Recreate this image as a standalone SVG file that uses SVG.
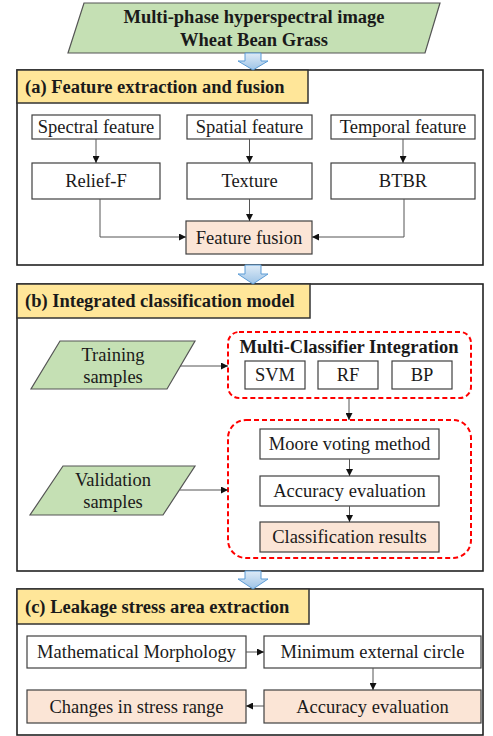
<svg xmlns="http://www.w3.org/2000/svg" width="493" height="736" viewBox="0 0 493 736">
<style>
text{font-family:"Liberation Serif","Times New Roman",serif;fill:#1a1a1a;text-anchor:middle;dominant-baseline:central}
.t{font-size:18.5px}
.b{font-weight:bold;font-size:18.5px}
.bx{fill:#fff;stroke:#404040;stroke-width:1.2}
.pe{fill:#FBE5D6;stroke:#404040;stroke-width:1.2}
.gr{fill:#C5E0B4;stroke:#555;stroke-width:1.2}
.ti{fill:#FFE699;stroke:#333;stroke-width:1.5}
.sec{fill:#fff;stroke:#222;stroke-width:1.6}
.dash{fill:none;stroke:#FF0000;stroke-width:2;stroke-dasharray:5 3}
.ln{fill:none;stroke:#555;stroke-width:1;marker-end:url(#ah)}
.ba{fill:url(#bg);stroke:#5B9BD5;stroke-width:1}
</style>
<defs>
<marker id="ah" viewBox="0 0 10 10" refX="10" refY="5" markerWidth="7" markerHeight="7" markerUnits="userSpaceOnUse" orient="auto"><path d="M0,0 L10,5 L0,10 z" fill="#111"/></marker>
<linearGradient id="bg" x1="0" y1="0" x2="0" y2="1"><stop offset="0" stop-color="#DEEBF7"/><stop offset="1" stop-color="#9DC3E6"/></linearGradient>
</defs>

<g id="input">
<polygon class="gr" points="84,3 440,3 425,53 68,53"/>
<text class="b" x="254" y="17">Multi-phase hyperspectral image</text>
<text class="b" x="254" y="40">Wheat Bean Grass</text>
</g>

<g id="section-a">
<rect class="sec" x="17" y="70" width="466" height="195"/>
<rect class="ti" x="17" y="70" width="291" height="33"/>
<text class="b" x="25" y="87" style="text-anchor:start">(a) Feature extraction and fusion</text>
</g>
<g id="spectral"><rect class="bx" x="32" y="115" width="128" height="24"/><text class="t" x="96" y="127">Spectral feature</text></g>
<g id="spatial"><rect class="bx" x="187" y="115" width="125" height="24"/><text class="t" x="249.5" y="127">Spatial feature</text></g>
<g id="temporal"><rect class="bx" x="331" y="115" width="144" height="24"/><text class="t" x="403" y="127">Temporal feature</text></g>
<g id="relief"><rect class="bx" x="32" y="163" width="128" height="36"/><text class="t" x="96" y="181">Relief-F</text></g>
<g id="texture"><rect class="bx" x="187" y="163" width="125" height="36"/><text class="t" x="249.5" y="181">Texture</text></g>
<g id="btbr"><rect class="bx" x="331" y="163" width="144" height="36"/><text class="t" x="403" y="181">BTBR</text></g>
<g id="fusion"><rect class="pe" x="186" y="221" width="126" height="33"/><text class="t" x="249" y="237.5">Feature fusion</text></g>

<g id="section-b">
<rect class="sec" x="17" y="284" width="466" height="287"/>
<rect class="ti" x="17" y="284" width="293" height="34"/>
<text class="b" x="25" y="301" style="text-anchor:start">(b) Integrated classification model</text>
</g>
<g id="training"><polygon class="gr" points="60,341 195,341 167,389 31,389"/><text class="t" x="113" y="355">Training</text><text class="t" x="113" y="377">samples</text></g>
<g id="validation"><polygon class="gr" points="63,466 195,466 163,515 30,515"/><text class="t" x="113" y="480">Validation</text><text class="t" x="113" y="502">samples</text></g>
<g id="multi-classifier">
<rect class="dash" x="228" y="332" width="243" height="66" rx="11"/>
<text class="b" x="349" y="347">Multi-Classifier Integration</text>
</g>
<g id="svm"><rect class="bx" x="245" y="361" width="60" height="28"/><text class="t" x="275" y="375">SVM</text></g>
<g id="rf"><rect class="bx" x="318" y="361" width="60" height="28"/><text class="t" x="348" y="375">RF</text></g>
<g id="bp"><rect class="bx" x="392" y="361" width="60" height="28"/><text class="t" x="422" y="375">BP</text></g>
<g id="voting-group"><rect class="dash" x="228" y="420" width="243" height="138" rx="18"/></g>
<g id="moore"><rect class="bx" x="260" y="429" width="179" height="30"/><text class="t" x="349.5" y="444">Moore voting method</text></g>
<g id="accuracy-b"><rect class="bx" x="260" y="476" width="179" height="30"/><text class="t" x="349.5" y="491">Accuracy evaluation</text></g>
<g id="results"><rect class="pe" x="260" y="522" width="179" height="30"/><text class="t" x="349.5" y="537">Classification results</text></g>

<g id="section-c">
<rect class="sec" x="17" y="589" width="466" height="146"/>
<rect class="ti" x="17" y="589" width="292" height="35"/>
<text class="b" x="25" y="607" style="text-anchor:start">(c) Leakage stress area extraction</text>
</g>
<g id="morphology"><rect class="bx" x="27" y="636" width="219" height="32"/><text class="t" x="136.5" y="652">Mathematical Morphology</text></g>
<g id="circle"><rect class="bx" x="264" y="636" width="217" height="32"/><text class="t" x="372.5" y="652">Minimum external circle</text></g>
<g id="changes"><rect class="pe" x="27" y="690" width="219" height="33"/><text class="t" x="136.5" y="706.5">Changes in stress range</text></g>
<g id="accuracy-c"><rect class="pe" x="264" y="690" width="217" height="33"/><text class="t" x="372.5" y="706.5">Accuracy evaluation</text></g>

<g id="connectors">
<path class="ba" d="M245,53 L261,53 L261,61 L268,61 L253,70 L238,61 L245,61 Z"/>
<path class="ba" d="M245,265 L261,265 L261,274 L268,274 L253,284 L238,274 L245,274 Z"/>
<path class="ba" d="M245,571 L261,571 L261,579 L268,579 L253,589 L238,579 L245,579 Z"/>
<path class="ln" d="M96,139 V163"/>
<path class="ln" d="M249.5,139 V163"/>
<path class="ln" d="M403,139 V163"/>
<path class="ln" d="M249.5,199 V221"/>
<path class="ln" d="M100,199 V237 H186"/>
<path class="ln" d="M404,199 V237 H312"/>
<path class="ln" d="M180,366 H228"/>
<path class="ln" d="M180,490 H228"/>
<path class="ln" d="M349,398 V420"/>
<path class="ln" d="M349.5,459 V476"/>
<path class="ln" d="M349.5,506 V522"/>
<path class="ln" d="M246,652 H264"/>
<path class="ln" d="M373,668 V690"/>
<path class="ln" d="M264,706 H246"/>
</g>
</svg>
